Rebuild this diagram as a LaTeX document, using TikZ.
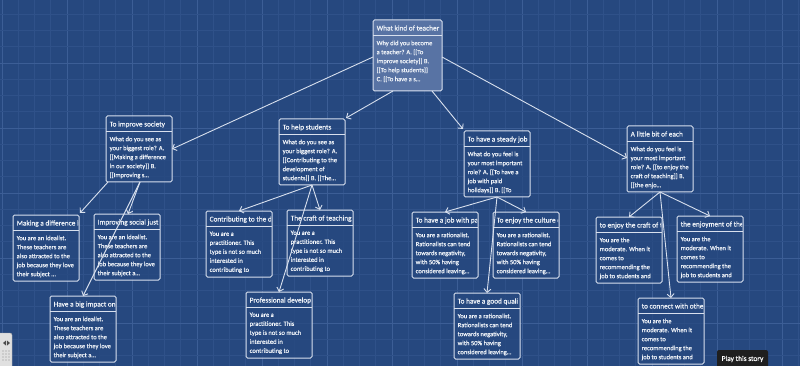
\documentclass[tikz,border=0pt]{standalone}
\usepackage{fontspec}
\setmainfont{Carlito}
\newfontfamily\mapfont{Carlito}[FakeBold=0.35]
\usetikzlibrary{arrows.meta,calc}
\definecolor{mapblue}{HTML}{26487F}
\definecolor{gridminor}{HTML}{2F5189}
\definecolor{gridmajor}{HTML}{3C5E96}
\definecolor{boxline}{HTML}{D8E0EE}
\definecolor{boxtext}{HTML}{EEF2F8}
\definecolor{picked}{HTML}{5873A4}
\tikzset{
  passage/.style={draw=boxline, line width=1pt, rounded corners=1.5pt,
    fill=mapblue, fill opacity=0.75, anchor=north west,
    minimum width=66pt, minimum height=66pt, inner sep=0pt, outer sep=0pt},
  start/.style={fill=picked, fill opacity=1,
    minimum width=69pt, minimum height=71pt},
  passage line/.style={draw=boxline, line width=0.8pt},
  passage title/.style={anchor=base west, inner sep=0pt, text=boxtext,
    font=\mapfont\fontsize{7.3}{9}\selectfont},
  passage text/.style={anchor=north west, align=left, inner sep=0pt,
    text=boxtext, font=\mapfont\fontsize{6.5}{9}\selectfont},
  link/.style={draw=boxline, line width=0.9pt,
    -{Straight Barb[length=3.5pt,width=7pt]}},
  minorline/.style={gridminor, line width=0.6pt},
  majorline/.style={gridmajor, line width=0.8pt},
  playbutton/.style={fill=black!88, text=white, rounded corners=2pt,
    minimum width=51pt, minimum height=18pt, inner sep=0pt,
    font=\mapfont\fontsize{7.4}{8}\selectfont}
}
% name, top left corner, title, text
\newcommand{\Passage}[5][]{%
  \node[passage,#1] (#2) at (#3) {};
  \draw[passage line] ($(#2.north west)+(0,15)$) -- ($(#2.north east)+(0,15)$);
  \begin{scope}
    \clip ($(#2.north west)+(1,1)$) rectangle ($(#2.north east)+(-1,15)$);
    \node[passage title] (#2-title) at ($(#2.north west)+(3.5,10.5)$) {#4};
  \end{scope}
  \node[passage text] (#2-text) at ($(#2.north west)+(3.5,20.5)$) {#5};
}

\begin{document}
\begin{tikzpicture}[x=1pt,y=-1pt]

  \path[use as bounding box] (0,0) rectangle (800,366);
  \fill[mapblue] (0,0) rectangle (800,366);
  % blueprint grid
  \foreach \i in {0,...,49}{
    \pgfmathtruncatemacro{\m}{mod(\i,4)}
    \ifnum\m=0 \def\gridstyle{majorline}\else \def\gridstyle{minorline}\fi
    \draw[\gridstyle] ({2+\i*16.25},0) -- ({2+\i*16.25},366);
  }
  \foreach \i in {0,...,23}{
    \pgfmathtruncatemacro{\m}{mod(\i,4)}
    \ifnum\m=0 \def\gridstyle{majorline}\else \def\gridstyle{minorline}\fi
    \draw[\gridstyle] (0,{-2+\i*16.25}) -- (800,{-2+\i*16.25});
  }

  % start passage<<<
  \Passage[start]{teacher}{373,20}{What kind of teacher}
    {Why did you become\\a teacher? A. [[To\\improve society]] B.\\{}[[To help students]]\\C. [[To have a s\dots}
  % >>>

  % row 1<<<
  \Passage{society}{106,116}{To improve society}
    {What do you see as\\your biggest role? A.\\{}[[Making a difference\\in our society]] B.\\{}[[Improving s\dots}
  \Passage{helping}{279,119}{To help students}
    {What do you see as\\your biggest role? A.\\{}[[Contributing to the\\development of\\students]] B. [[The\dots}
  \Passage{steady}{464,131}{To have a steady job}
    {What do you feel is\\your most important\\role? A. [[To have a\\job with paid\\holidays]] B. [[To}
  \Passage{each}{627,126}{A little bit of each}
    {What do you feel is\\your most important\\role? A. [[to enjoy the\\craft of teaching]] B.\\{}[[the enjo\dots}
  % >>>

  % row 2<<<
  \Passage{making}{13,215}{Making a difference i}
    {You are an idealist.\\These teachers are\\also attracted to the\\job because they love\\their subject \dots}
  \Passage{improving}{94,214}{Improving social just}
    {You are an idealist.\\These teachers are\\also attracted to the\\job because they love\\their subject a\dots}
  \Passage{contrib}{206,211}{Contributing to the d}
    {You are a\\practitioner. This\\type is not so much\\interested in\\contributing to}
  \Passage{craft}{287,210}{The craft of teaching}
    {You are a\\practitioner. This\\type is not so much\\interested in\\contributing to}
  \Passage{paidjob}{412,212}{To have a job with pa}
    {You are a rationalist.\\Rationalists can tend\\towards negativity,\\with 50\% having\\considered leaving\dots}
  \Passage{culture}{493,212}{To enjoy the culture o}
    {You are a rationalist.\\Rationalists can tend\\towards negativity,\\with 50\% having\\considered leaving\dots}
  \Passage{craftof}{596,217}{to enjoy the craft of t}
    {You are the\\moderate. When it\\comes to\\recommending the\\job to students and}
  \Passage{enjoyment}{677,216}{the enjoyment of the}
    {You are the\\moderate. When it\\comes to\\recommending the\\job to students and}
  % >>>

  % row 3<<<
  \Passage{impact}{50,296}{Have a big impact on}
    {You are an idealist.\\These teachers are\\also attracted to the\\job because they love\\their subject a\dots}
  \Passage{profdev}{246,292}{Professional develop}
    {You are a\\practitioner. This\\type is not so much\\interested in\\contributing to}
  \Passage{quality}{454,293}{To have a good quali}
    {You are a rationalist.\\Rationalists can tend\\towards negativity,\\with 50\% having\\considered leaving\dots}
  \Passage{connect}{638,298}{to connect with othe}
    {You are the\\moderate. When it\\comes to\\recommending the\\job to students and}
  % >>>

  % links<<<
  \draw[link] ($(teacher.north west)+(0,37)$) -- ($(society.north east)+(0,33)$);
  \draw[link] ($(teacher.south west)+(20,0)$) -- ($(helping.north east)+(1,-1)$);
  \draw[link] ($(teacher.south east)+(-10,0)$) -- ($(steady.north west)+(-1,-2)$);
  \draw[link] ($(teacher.north east)+(0,37)$) -- ($(each.north west)+(0,32)$);

  \draw[link] ($(society.south west)+(2,0)$) -- ($(making.north east)+(1,-2)$);
  \draw[link] ($(society.south)+(1,0)$) -- ($(improving.north)+(1,0)$);
  \draw[link] ($(society.south)+(1,0)$) -- (impact.north);

  \draw[link] (helping.south) -- (contrib.north);
  \draw[link] (helping.south) -- (craft.north);
  \draw[link] (helping.south) -- (profdev.north);

  \draw[link] (steady.south) -- (paidjob.north);
  \draw[link] (steady.south) -- (culture.north);
  \draw[link] (steady.south) -- (quality.north);

  \draw[link] (each.south) -- (craftof.north);
  \draw[link] (each.south) -- (enjoyment.north);
  \draw[link] (each.south) -- (connect.north);
  % >>>

  % widget and button<<<
  \filldraw[fill=black!12, draw=black!35, rounded corners=2pt]
    (-6,333) rectangle (12,372);
  \fill[black!70] (3,343) -- (6,340.5) -- (6,345.5) -- cycle;
  \fill[black!70] (10,343) -- (7,340.5) -- (7,345.5) -- cycle;
  \foreach \dx in {3,6,9}{
    \foreach \dy in {351,354,357,360}{
      \fill[black!45] (\dx,\dy) circle (0.7);
    }
  }
  \node[playbutton] (play) at (742.5,359) {Play this story};
  % >>>

\end{tikzpicture}
\end{document}
